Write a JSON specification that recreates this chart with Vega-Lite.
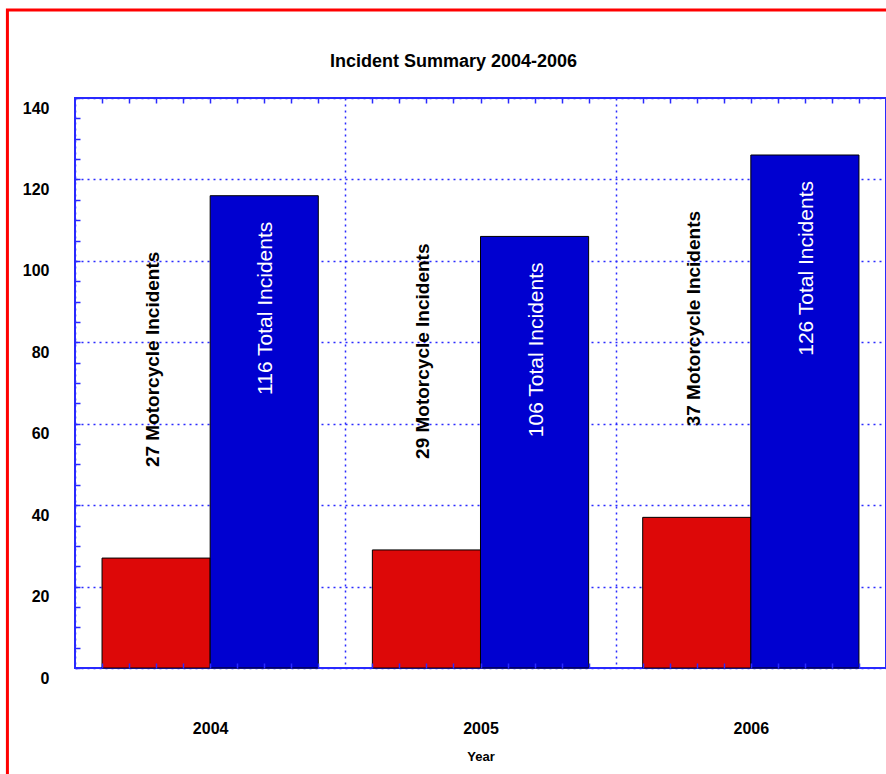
{
  "$schema": "https://vega.github.io/schema/vega-lite/v6.json",
  "autosize": "none",
  "padding": {"left": 75, "top": 98, "right": 0, "bottom": 106},
  "width": 811,
  "height": 570,
  "background": "white",
  "title": {
    "text": "Incident Summary 2004-2006",
    "font": "Liberation Sans",
    "fontSize": 18,
    "fontWeight": "bold",
    "color": "black",
    "anchor": "middle",
    "offset": -62,
    "dx": -27
  },
  "config": {
    "view": {"stroke": "#2a2aff", "strokeWidth": 2},
    "font": "Liberation Sans"
  },
  "data": {
    "values": [
      {"year": "2004", "series": "Motorcycle", "value": 27, "label": "27 Motorcycle Incidents"},
      {"year": "2004", "series": "Total", "value": 116, "label": "116 Total Incidents"},
      {"year": "2005", "series": "Motorcycle", "value": 29, "label": "29 Motorcycle Incidents"},
      {"year": "2005", "series": "Total", "value": 106, "label": "106 Total Incidents"},
      {"year": "2006", "series": "Motorcycle", "value": 37, "label": "37 Motorcycle Incidents"},
      {"year": "2006", "series": "Total", "value": 126, "label": "126 Total Incidents"}
    ]
  },
  "layer": [
    {
      "encoding": {
        "x": {
          "field": "year",
          "type": "nominal",
          "scale": {"paddingInner": 0, "paddingOuter": 0},
          "axis": {
            "orient": "bottom",
            "tickBand": "extent",
            "ticks": false,
            "domain": false,
            "grid": true,
            "gridColor": "#2a2aff",
            "gridDash": [2, 4],
            "gridWidth": 1.5,
            "labelAngle": 0,
            "labelFont": "Liberation Sans",
            "labelFontSize": 16,
            "labelFontWeight": "bold",
            "labelColor": "black",
            "labelPadding": 52,
            "labelBaseline": "top",
            "title": "Year",
            "titleFont": "Liberation Sans",
            "titleFontSize": 13,
            "titleFontWeight": "bold",
            "titleColor": "black",
            "titlePadding": 14
          }
        },
        "y": {
          "field": "value",
          "type": "quantitative",
          "scale": {"domain": [0, 140], "nice": false},
          "axis": {
            "values": [0, 5, 10, 15, 20, 25, 30, 35, 40, 45, 50, 55, 60, 65, 70, 75, 80, 85, 90, 95, 100, 105, 110, 115, 120, 125, 130, 135, 140],
            "labelExpr": "datum.value % 20 === 0 ? datum.label : ''",
            "domain": false,
            "tickSize": -5,
            "tickColor": "#2a2aff",
            "tickWidth": 1.5,
            "grid": true,
            "gridColor": "#2a2aff",
            "gridDash": [2, 4],
            "gridWidth": 1.5,
            "gridOpacity": {"condition": {"test": "datum.value % 20 === 0", "value": 1}, "value": 0},
            "labelFont": "Liberation Sans",
            "labelFontSize": 16,
            "labelFontWeight": "bold",
            "labelColor": "black",
            "labelPadding": 31,
            "labelOffset": 10,
            "title": null
          }
        }
      },
      "layer": [
        {
          "mark": {"type": "bar", "stroke": "black", "strokeWidth": 1},
          "encoding": {
            "xOffset": {"field": "series", "scale": {"domain": ["Motorcycle", "Total"], "paddingInner": 0, "paddingOuter": 0.25}},
            "color": {"field": "series", "scale": {"domain": ["Motorcycle", "Total"], "range": ["#dd0808", "#0000d0"]}, "legend": null}
          }
        },
        {
          "transform": [{"filter": "datum.series === 'Motorcycle'"}],
          "mark": {"type": "text", "angle": 270, "align": "left", "baseline": "middle", "dx": 91, "dy": -3, "font": "Liberation Sans", "fontSize": 19, "fontWeight": "bold", "color": "black"},
          "encoding": {
            "xOffset": {"field": "series", "scale": {"domain": ["Motorcycle", "Total"], "paddingInner": 0, "paddingOuter": 0.25}},
            "text": {"field": "label"}
          }
        },
        {
          "transform": [{"filter": "datum.series === 'Total'"}],
          "mark": {"type": "text", "angle": 270, "align": "right", "baseline": "middle", "dx": -26, "dy": 2, "font": "Liberation Sans", "fontSize": 21, "fontWeight": "normal", "color": "white"},
          "encoding": {
            "xOffset": {"field": "series", "scale": {"domain": ["Motorcycle", "Total"], "paddingInner": 0, "paddingOuter": 0.25}},
            "text": {"field": "label"}
          }
        },
        {
          "transform": [{"filter": "datum.year === '2004' && datum.series === 'Motorcycle'"}],
          "mark": {"type": "rect", "fill": null, "fillOpacity": 0, "stroke": "#ff0000", "strokeWidth": 3, "clip": false},
          "encoding": {
            "x": {"datum": "2004", "type": "nominal", "bandPosition": -0.25},
            "x2": {"datum": "2006", "bandPosition": 1.5},
            "y": {"datum": 161.6, "type": "quantitative"},
            "y2": {"datum": -30}
          }
        }
      ]
    },
    {
      "transform": [{"filter": "datum.year === '2004' && datum.series === 'Motorcycle'"}],
      "mark": {"type": "rule", "opacity": 0},
      "encoding": {
        "x": {
          "datum": 0,
          "type": "quantitative",
          "scale": {"domain": [0, 30], "nice": false, "zero": false},
          "axis": {
            "orient": "bottom",
            "zindex": 1,
            "values": [1, 2, 3, 4, 5, 6, 7, 8, 9, 11, 12, 13, 14, 15, 16, 17, 18, 19, 21, 22, 23, 24, 25, 26, 27, 28, 29],
            "labels": false,
            "domain": false,
            "grid": false,
            "tickSize": -5,
            "tickColor": "#2a2aff",
            "tickWidth": 1.5,
            "title": null
          }
        }
      }
    },
    {
      "transform": [{"filter": "datum.year === '2004' && datum.series === 'Motorcycle'"}],
      "mark": {"type": "rule", "opacity": 0},
      "encoding": {
        "x": {
          "datum": 0,
          "type": "quantitative",
          "scale": {"domain": [0, 30], "nice": false, "zero": false},
          "axis": {
            "orient": "top",
            "values": [1, 2, 3, 4, 5, 6, 7, 8, 9, 11, 12, 13, 14, 15, 16, 17, 18, 19, 21, 22, 23, 24, 25, 26, 27, 28, 29],
            "labels": false,
            "domain": false,
            "grid": false,
            "tickSize": -5,
            "tickColor": "#2a2aff",
            "tickWidth": 1.5,
            "title": null
          }
        }
      }
    }
  ],
  "resolve": {"scale": {"x": "independent"}, "axis": {"x": "independent"}}
}
